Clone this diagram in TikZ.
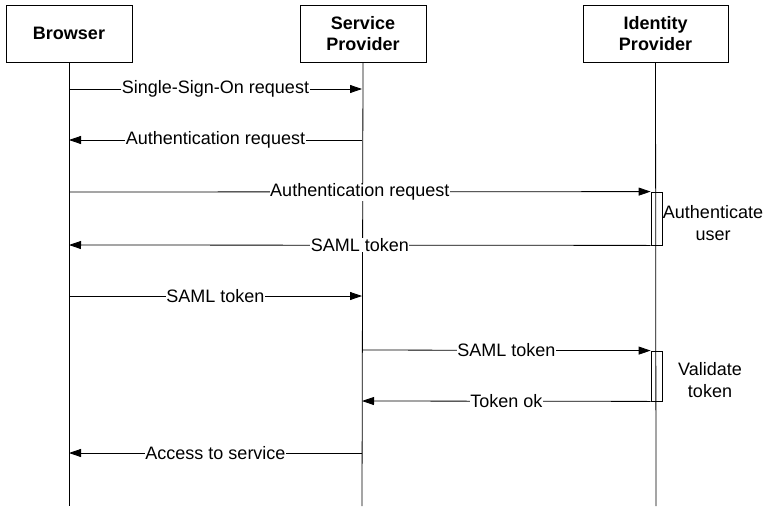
\documentclass[tikz,border=0pt]{standalone}
\usepackage{fontspec}
\setmainfont{Liberation Sans}
\usetikzlibrary{arrows.meta}

\tikzset{
  actor/.style={draw, line width=0.8pt, minimum height=57pt, inner sep=2pt,
    align=center, font=\fontsize{18}{21}\selectfont\bfseries},
  lifeline/.style={line width=0.8pt},
  msg/.style={line width=0.8pt, -{Triangle[length=12pt,width=8pt]}},
  lbl/.style={fill=white, inner sep=0.5pt, font=\fontsize{18}{21}\selectfont},
  actbar/.style={draw, line width=0.8pt, minimum width=11pt, inner sep=0pt},
  note/.style={align=center, font=\fontsize{18}{22}\selectfont}
}

\begin{document}
\begin{tikzpicture}[x=1pt, y=-1pt]
  \useasboundingbox (0,0) rectangle (763,506);

  % participants
  \node[actor, minimum width=126pt] (br) at (69,33.5)    {Browser};
  \node[actor, minimum width=126pt] (sp) at (363,33.5)   {Service\\Provider};
  \node[actor, minimum width=145pt] (idp) at (655.5,33.5) {Identity\\Provider};

  % lifeline ends
  \coordinate (brEnd)  at (69,506);
  \coordinate (spEnd)  at (362,506);
  \coordinate (idpEnd) at (656,506);

  \draw[lifeline] (br.south)  -- (brEnd);
  \draw[lifeline] (sp.south)  -- (spEnd);
  \draw[lifeline] (idp.south) -- (idpEnd);

  % activation bars on the identity provider
  \node[actbar, minimum height=53pt] (act1) at (656.5,218.5) {};
  \node[actbar, minimum height=50pt] (act2) at (656.5,376)   {};

  \node[note] (authN) at (713,223) {Authenticate\\user};
  \node[note] (valN)  at (710,380) {Validate\\token};

  % message anchors on the lifelines
  \coordinate (b1) at (69,89);   \coordinate (s1) at (362,89);
  \coordinate (b2) at (69,140);  \coordinate (s2) at (362,140);
  \coordinate (b3) at (69,192);
  \coordinate (b4) at (69,245);
  \coordinate (b5) at (69,296);  \coordinate (s5) at (362,296);
  \coordinate (s6) at (362,350);
  \coordinate (s7) at (362,401);
  \coordinate (b8) at (69,453);  \coordinate (s8) at (362,453);

  % messages
  \draw[msg] (b1) -- node[lbl] {Single-Sign-On request} (s1);
  \draw[msg] (s2) -- node[lbl] {Authentication request} (b2);
  \draw[msg] (b3) -- node[lbl] {Authentication request} (act1.north west);
  \draw[msg] (act1.south west) -- node[lbl] {SAML token} (b4);
  \draw[msg] (b5) -- node[lbl] {SAML token} (s5);
  \draw[msg] (s6) -- node[lbl] {SAML token} (act2.north west);
  \draw[msg] (act2.south west) -- node[lbl] {Token ok} (s7);
  \draw[msg] (s8) -- node[lbl] {Access to service} (b8);
\end{tikzpicture}
\end{document}
